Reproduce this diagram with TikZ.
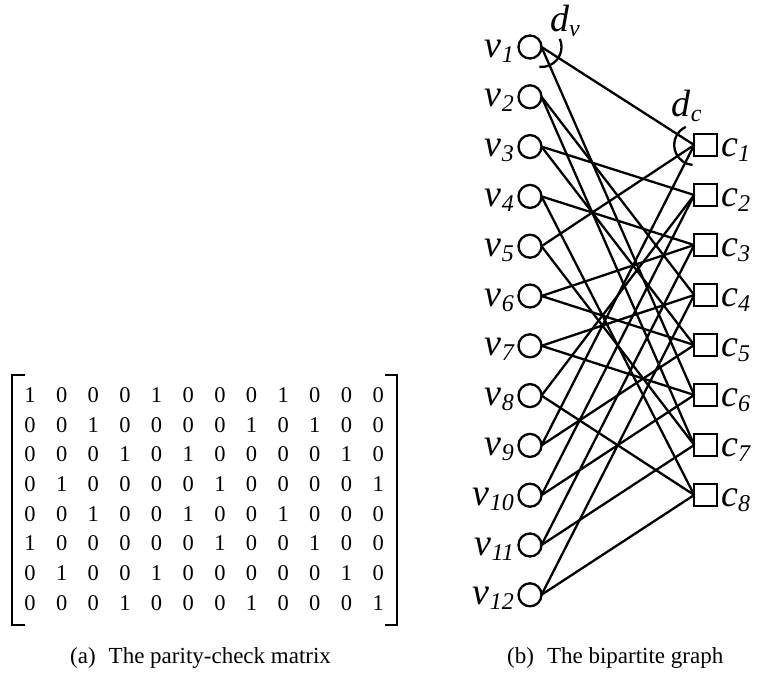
\documentclass[tikz,border=0pt]{standalone}
\usepackage{fontspec}
\setmainfont{Liberation Serif}
\newcommand\mysub[1]{\raisebox{-5pt}{\fontsize{24}{26}\selectfont #1}}
\begin{document}
\begin{tikzpicture}[x=1pt,y=1pt,
  vnode/.style={circle,draw,line width=2.3pt,minimum size=23pt,inner sep=0pt,outer sep=0pt},
  cnode/.style={rectangle,draw,line width=2.3pt,minimum size=22.6pt,inner sep=0pt,outer sep=0pt},
  link/.style={line width=2.3pt},
  lab/.style={inner sep=0pt,font=\fontsize{38}{40}\selectfont\itshape},
  digit/.style={inner sep=0pt,font=\fontsize{22.5}{24}\selectfont},
  captext/.style={inner sep=0pt,font=\fontsize{23}{25}\selectfont,anchor=base west},
  bracket/.style={line width=2.2pt}]
\useasboundingbox (0,0) rectangle (758,-675);
% variable nodes
\foreach \i in {1,...,12} {
  \node[vnode] (v\i) at (530,{-(47+(\i-1)*49.8)}) {};
  \node[lab,anchor=base east] (lv\i) at (514,{-(57+(\i-1)*49.8)}) {v\mysub{\i}};
}
% check nodes
\foreach \j in {1,...,8} {
  \node[cnode] (c\j) at (705.5,{-(145+(\j-1)*50)}) {};
  \node[lab,anchor=base west] (lc\j) at (721,{-(156.7+(\j-1)*50)}) {c\mysub{\j}};
}
% edges
\foreach \c/\v in {1/1,1/5,1/9, 2/3,2/8,2/10, 3/4,3/6,3/11, 4/2,4/7,4/12,
                   5/3,5/6,5/9, 6/1,6/7,6/10, 7/2,7/5,7/11, 8/4,8/8,8/12}
  \draw[link] (v\v.east) -- (c\c.west);
% degree arcs
\draw[link] ([shift={(24:20pt)}]v1.east) arc[start angle=24,end angle=-96,radius=20pt];
\node[lab,anchor=base west] (dv) at (550,-31.7) {d\mysub{v}};
\draw[link] ([shift={(115:20pt)}]c1.west) arc[start angle=115,end angle=265,radius=20pt];
\node[lab,anchor=base west] (dc) at (671.7,-116.7) {d\mysub{c}};
% matrix
\foreach \row [count=\r] in {{1,0,0,0,1,0,0,0,1,0,0,0},{0,0,1,0,0,0,0,1,0,1,0,0},
  {0,0,0,1,0,1,0,0,0,0,1,0},{0,1,0,0,0,0,1,0,0,0,0,1},{0,0,1,0,0,1,0,0,1,0,0,0},
  {1,0,0,0,0,0,1,0,0,1,0,0},{0,1,0,0,1,0,0,0,0,0,1,0},{0,0,0,1,0,0,0,1,0,0,0,1}}
  \foreach \e [count=\k] in \row
    \node[digit] (m\r-\k) at ({30+(\k-1)*31.65},{-(395+(\r-1)*29.7)}) {\e};
\draw[bracket] (25,-375) -- (12,-375) -- (12,-625) -- (25,-625);
\draw[bracket] (385,-375) -- (397,-375) -- (397,-625) -- (385,-625);
% captions
\node[captext] (capa) at (70,-663) {(a)\hspace{13pt}The parity-check matrix};
\node[captext] (capb) at (507,-663) {(b)\hspace{13pt}The bipartite graph};
\end{tikzpicture}
\end{document}
